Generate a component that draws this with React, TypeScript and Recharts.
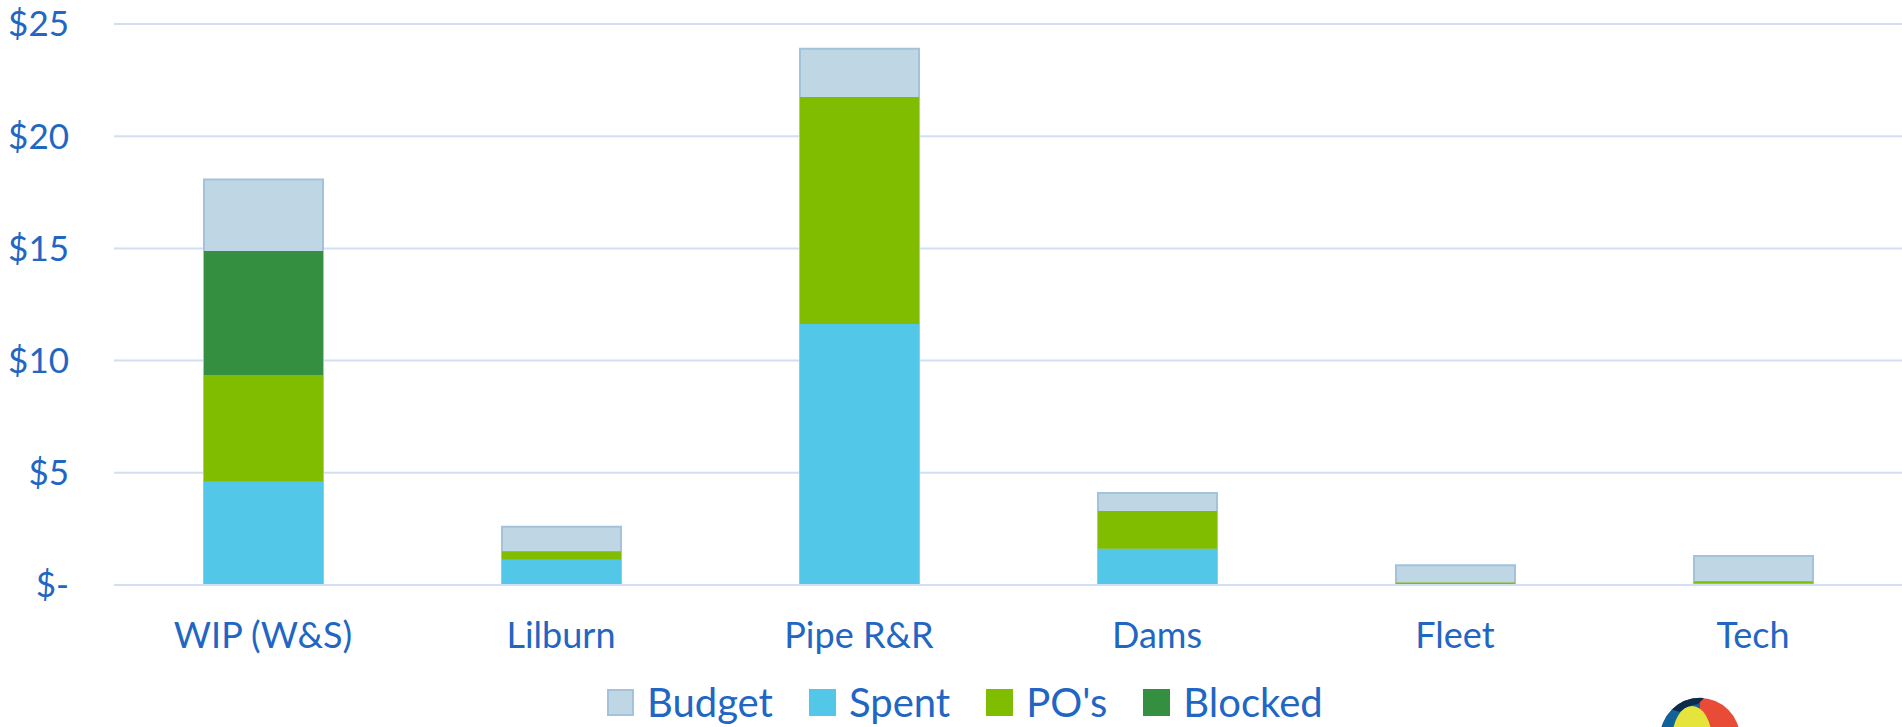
import React from "react";
import { BarChart, Bar, XAxis, YAxis, CartesianGrid, Legend } from "recharts";

const categories = ["WIP (W&S)", "Lilburn", "Pipe R&R", "Dams", "Fleet", "Tech"];
const budget = [18.07, 2.6, 23.9, 4.1, 0.88, 1.29];
const spent = [4.6, 1.13, 11.63, 1.62, 0.05, 0.08];
const pos = [4.76, 0.37, 10.12, 1.68, 0.06, 0.09];
const blocked = [5.52, 0, 0, 0, 0, 0];
const yTicks = [0, 5, 10, 15, 20, 25];
const legendOrder = ["budget", "spent", "pos", "blocked"];

const data = categories.map((name, i) => ({
  name,
  budget: budget[i],
  spent: spent[i],
  pos: pos[i],
  blocked: blocked[i],
}));

const TEXT = "#2266C4";
const FONT = "Lato, 'Open Sans', sans-serif";

const LegendContent = (props: any) => {
  const payload = [...(props.payload || [])].sort(
    (a: any, b: any) => legendOrder.indexOf(a.dataKey) - legendOrder.indexOf(b.dataKey)
  );
  return (
    <div
      style={{
        display: "flex",
        justifyContent: "flex-start",
        alignItems: "center",
        height: 50,
        paddingLeft: 607,
        fontFamily: FONT,
        fontSize: 40,
        color: TEXT,
      }}
    >
      {payload.map((p: any, i: number) => {
        const isBudget = p.dataKey === "budget";
        return (
          <div key={i} style={{ display: "flex", alignItems: "center", marginRight: 36 }}>
            <div
              style={{
                width: 27,
                height: 27,
                boxSizing: "border-box",
                background: p.color,
                border: isBudget ? "2px solid #A3C3DA" : "none",
                marginRight: 13,
              }}
            />
            <span style={{ lineHeight: "50px" }}>{p.value}</span>
          </div>
        );
      })}
    </div>
  );
};

export default function App() {
  return (
    <div style={{ position: "absolute", left: 0, top: 0, width: 1902, height: 727, background: "#fff", overflow: "hidden" }}>
      <BarChart
        width={1902}
        height={727}
        data={data}
        margin={{ top: 24, right: 0, left: 0, bottom: 0 }}
      >
        <CartesianGrid horizontal vertical={false} stroke="#CFE0F4" strokeWidth={2} />
        <XAxis xAxisId="budget" dataKey="name" hide height={0} />
        <XAxis
          xAxisId="main"
          dataKey="name"
          height={92}
          tickSize={0}
          tickMargin={37}
          axisLine={{ stroke: "#CFE0F4", strokeWidth: 2 }}
          tick={{ fill: TEXT, fontSize: 36, fontFamily: FONT }}
          interval={0}
        />
        <YAxis
          width={114}
          domain={[0, 25]}
          ticks={yTicks}
          tickSize={0}
          tickMargin={45}
          axisLine={false}
          tick={{ fill: TEXT, fontSize: 35, fontFamily: FONT }}
          tickFormatter={(v: number) => (v === 0 ? "$-" : `$${v}`)}
        />
        <Legend verticalAlign="bottom" height={50} content={<LegendContent />} />
        <Bar
          xAxisId="budget"
          dataKey="budget"
          name="Budget"
          fill="#BFD6E4"
          stroke="#A3C3DA"
          strokeWidth={2}
          barSize={119}
          isAnimationActive={false}
        />
        <Bar xAxisId="main" dataKey="spent" name="Spent" stackId="a" fill="#53C7E8" barSize={119} isAnimationActive={false} />
        <Bar xAxisId="main" dataKey="pos" name="PO's" stackId="a" fill="#80BC00" barSize={119} isAnimationActive={false} />
        <Bar xAxisId="main" dataKey="blocked" name="Blocked" stackId="a" fill="#358F41" barSize={119} isAnimationActive={false} />
      </BarChart>
      <svg style={{ position: "absolute", left: 1640, top: 680 }} width={140} height={47}>
        <g transform="translate(60,58)">
          <circle r={40} fill="#E84C37" />
          <path d="M0,-40 A40,40 0 0 0 -40,0 L-40,40 L0,40 Z" fill="#0F6399" />
          <path d="M-28,-28.5 A40,40 0 0 1 4,-40 L-2,-34 A36,36 0 0 0 -20,-26 Z" fill="#0C2A4C" />
          <ellipse cx={-8} cy={2} rx={20} ry={34} fill="#E4E43C" />
        </g>
      </svg>
    </div>
  );
}
